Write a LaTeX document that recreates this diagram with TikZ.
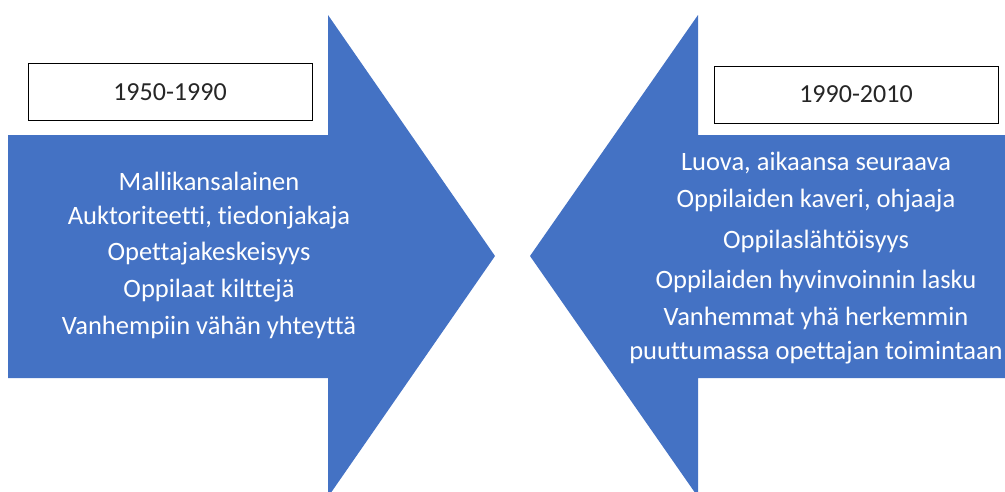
\documentclass[tikz,border=0pt]{standalone}
\usepackage{fontspec}
\setmainfont{Carlito}[Ligatures=NoCommon]
\definecolor{officeblue}{HTML}{4472C4}
\begin{document}
\begin{tikzpicture}[x=1pt,y=-1pt,
  arrowshape/.style={fill=officeblue,draw=none},
  yearbox/.style={draw=black,line width=0.9pt,fill=white,minimum width=284pt,minimum height=57pt,inner sep=0pt,font=\fontsize{26}{30}\selectfont,text=black!85},
  item/.style={text=white,font=\fontsize{26.5}{34}\selectfont,align=center,inner sep=0pt}]
\useasboundingbox (0,0) rectangle (1005,491);
\clip (0,0) rectangle (1005,491);
% left arrow
\path[arrowshape] (8,135) -- (328,135) -- (328,15) -- (495,256) -- (328,497) -- (328,378) -- (8,378) -- cycle;
% right arrow
\path[arrowshape] (1006,135) -- (698,135) -- (698,15) -- (530,256) -- (698,497) -- (698,378) -- (1006,378) -- cycle;
% year boxes
\node[yearbox] (y1) at (170,92) {1950-1990};
\node[yearbox] (y2) at (856,94.5) {1990-2010};
% left items
\node[item] (l1) at (209,181) {Mallikansalainen};
\node[item] (l2) at (209,217.5) {Auktoriteetti, tiedonjakaja};
\node[item] (l3) at (209,254) {Opettajakeskeisyys};
\node[item] (l4) at (209,290.5) {Oppilaat kilttejä};
\node[item] (l5) at (209,327) {Vanhempiin vähän yhteyttä};
% right items
\node[item] (r1) at (816,163) {Luova, aikaansa seuraava};
\node[item] (r2) at (816,201) {Oppilaiden kaveri, ohjaaja};
\node[item] (r3) at (816,241) {Oppilaslähtöisyys};
\node[item] (r4) at (816,281) {Oppilaiden hyvinvoinnin lasku};
\node[item] (r5) at (816,336) {Vanhemmat yhä herkemmin\\puuttumassa opettajan toimintaan};
\end{tikzpicture}
\end{document}
